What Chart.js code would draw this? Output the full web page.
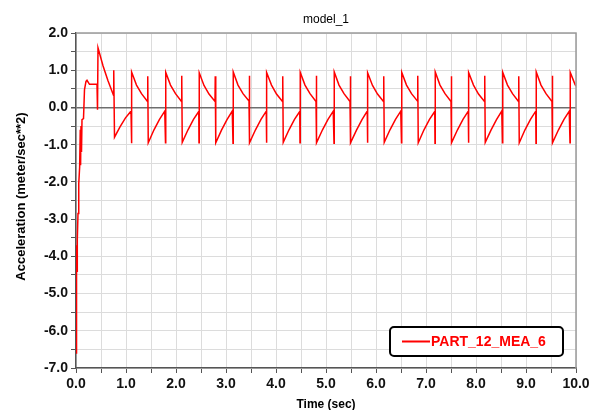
<!DOCTYPE html>
<html>
<head>
<meta charset="utf-8">
<title>model_1</title>
<script src="https://cdn.jsdelivr.net/npm/chart.js@4"></script>
<style>
  html, body { margin: 0; padding: 0; background: #fff; }
  #wrap { width: 596px; height: 410px; position: relative; }
</style>
</head>
<body>
<div id="wrap"><canvas id="accelChart"></canvas></div>
<script>
// Texts
const chartTitle = 'model_1';
const xTitle = 'Time (sec)';
const yTitle = 'Acceleration (meter/sec**2)';
const seriesName = 'PART_12_MEA_6';

// Tick labels (labelled only at whole numbers, ticks every 0.5)
const xLabels = ['0.0', '1.0', '2.0', '3.0', '4.0', '5.0', '6.0', '7.0', '8.0', '9.0', '10.0'];
const yLabels = ['-7.0', '-6.0', '-5.0', '-4.0', '-3.0', '-2.0', '-1.0', '0.0', '1.0', '2.0'];

// Samples, one row per cycle
const timeSec = [
  0.000, 0.004, 0.012, 0.016, 0.020, 0.026, 0.040, 0.055, 0.073, 0.085, 0.092, 0.100, 0.110, 0.120, 0.150, 0.170, 0.200, 0.220, 0.270, 0.420, 0.430,
  0.440, 0.540, 0.640, 0.750, 0.755, 0.770, 0.880, 0.990, 1.100,
  1.110, 1.115, 1.210, 1.310, 1.430, 1.435, 1.445, 1.560, 1.670, 1.775,
  1.790, 1.795, 1.890, 1.990, 2.110, 2.115, 2.125, 2.240, 2.350, 2.455,
  2.460, 2.465, 2.560, 2.660, 2.780, 2.785, 2.795, 2.910, 3.020, 3.125,
  3.140, 3.145, 3.240, 3.340, 3.460, 3.465, 3.475, 3.590, 3.700, 3.805,
  3.810, 3.815, 3.910, 4.010, 4.130, 4.135, 4.145, 4.260, 4.370, 4.475,
  4.480, 4.485, 4.580, 4.680, 4.800, 4.805, 4.815, 4.930, 5.040, 5.145,
  5.160, 5.165, 5.260, 5.360, 5.480, 5.485, 5.495, 5.610, 5.720, 5.825,
  5.830, 5.835, 5.930, 6.030, 6.150, 6.155, 6.165, 6.280, 6.390, 6.495,
  6.510, 6.515, 6.610, 6.710, 6.830, 6.835, 6.845, 6.960, 7.070, 7.175,
  7.180, 7.185, 7.280, 7.380, 7.500, 7.505, 7.515, 7.630, 7.740, 7.845,
  7.850, 7.855, 7.950, 8.050, 8.170, 8.175, 8.185, 8.300, 8.410, 8.515,
  8.530, 8.535, 8.630, 8.730, 8.850, 8.855, 8.865, 8.980, 9.090, 9.195,
  9.200, 9.205, 9.300, 9.400, 9.520, 9.525, 9.535, 9.650, 9.760, 9.865,
  9.880, 9.885, 9.980, 10.000
];
const accel = [
  -6.60, -5.50, -4.65, -3.70, -4.40, -3.55, -2.85, -2.05, -1.60, -0.60, -1.55, -0.50, -1.20, -0.33, -0.30, 0.48, 0.70, 0.73, 0.62, 0.62, -0.06,
  1.60, 1.12, 0.72, 0.33, 1.00, -0.80, -0.52, -0.28, -0.10,
  -0.96, 0.95, 0.60, 0.37, 0.16, 0.84, -0.95, -0.60, -0.32, -0.10,
  -0.95, 0.94, 0.60, 0.37, 0.16, 0.85, -0.94, -0.60, -0.32, -0.11,
  -0.95, 0.93, 0.59, 0.36, 0.16, 0.84, -0.95, -0.61, -0.33, -0.10,
  -0.96, 0.95, 0.60, 0.37, 0.17, 0.85, -0.95, -0.60, -0.32, -0.10,
  -0.95, 0.94, 0.60, 0.36, 0.16, 0.84, -0.94, -0.60, -0.32, -0.11,
  -0.95, 0.94, 0.60, 0.37, 0.16, 0.85, -0.95, -0.60, -0.32, -0.10,
  -0.96, 0.95, 0.60, 0.37, 0.16, 0.84, -0.95, -0.61, -0.33, -0.10,
  -0.95, 0.93, 0.59, 0.36, 0.16, 0.84, -0.94, -0.60, -0.32, -0.10,
  -0.95, 0.94, 0.60, 0.37, 0.17, 0.85, -0.95, -0.60, -0.32, -0.11,
  -0.96, 0.95, 0.60, 0.37, 0.16, 0.84, -0.95, -0.60, -0.32, -0.10,
  -0.95, 0.94, 0.60, 0.36, 0.16, 0.85, -0.94, -0.61, -0.33, -0.10,
  -0.95, 0.94, 0.60, 0.37, 0.16, 0.84, -0.95, -0.60, -0.32, -0.10,
  -0.96, 0.95, 0.60, 0.37, 0.16, 0.85, -0.95, -0.60, -0.32, -0.10,
  -0.95, 0.94, 0.62, 0.57
];

const FONT = '"Liberation Sans", Arial, Helvetica, sans-serif';
Chart.defaults.font.family = FONT;
Chart.defaults.color = '#111';

const points = timeSec.map((t, i) => ({ x: t, y: accel[i] }));

// frame, titles and the boxed legend
const decorations = {
  id: 'decorations',
  afterDraw(chart) {
    const { ctx, chartArea: a } = chart;
    const midX = (a.left + a.right) / 2;
    ctx.save();

    ctx.strokeStyle = '#9a9a9a';
    ctx.lineWidth = 1.5;
    ctx.beginPath();
    ctx.moveTo(a.left, a.top);
    ctx.lineTo(a.right, a.top);
    ctx.lineTo(a.right, a.bottom);
    ctx.stroke();

    ctx.fillStyle = '#000';
    ctx.textAlign = 'center';
    ctx.textBaseline = 'alphabetic';
    ctx.font = '12px ' + FONT;
    ctx.fillText(chartTitle, midX, 23);

    ctx.font = 'bold 12px ' + FONT;
    ctx.fillText(xTitle, midX, 408);

    ctx.save();
    ctx.translate(25, (a.top + a.bottom) / 2 - 4);
    ctx.rotate(-Math.PI / 2);
    ctx.font = 'bold 13px ' + FONT;
    ctx.fillText(yTitle, 0, 0);
    ctx.restore();

    // legend box
    const bx = 390, by = 327, bw = 173, bh = 29;
    ctx.beginPath();
    ctx.roundRect(bx, by, bw, bh, 4);
    ctx.fillStyle = '#fff';
    ctx.fill();
    ctx.lineWidth = 2;
    ctx.strokeStyle = '#000';
    ctx.stroke();

    ctx.strokeStyle = 'rgb(255,0,0)';
    ctx.lineWidth = 2;
    ctx.beginPath();
    ctx.moveTo(402, by + bh / 2);
    ctx.lineTo(430, by + bh / 2);
    ctx.stroke();

    ctx.fillStyle = 'rgb(255,0,0)';
    ctx.textAlign = 'left';
    ctx.textBaseline = 'middle';
    ctx.font = 'bold 14px ' + FONT;
    ctx.fillText(seriesName, 431, by + bh / 2 + 1);

    ctx.restore();
  }
};

new Chart(document.getElementById('accelChart'), {
  type: 'line',
  data: {
    datasets: [{
      label: seriesName,
      data: points,
      borderColor: 'rgb(255,0,0)',
      borderWidth: 1.5,
      pointRadius: 0,
      tension: 0,
      fill: false
    }]
  },
  options: {
    responsive: true,
    maintainAspectRatio: false,
    animation: false,
    layout: { padding: { top: 33, right: 20, left: 0, bottom: 0 } },
    plugins: {
      legend: { display: false },
      tooltip: { enabled: false },
      title: { display: false }
    },
    scales: {
      x: {
        type: 'linear',
        min: 0,
        max: 10,
        afterFit: scale => { scale.height = 42; },
        border: { display: true, color: '#555', width: 1.5 },
        grid: { color: '#dcdcdc', lineWidth: 1, tickColor: '#555', tickLength: 5 },
        ticks: {
          stepSize: 0.5,
          autoSkip: false,
          maxRotation: 0,
          padding: 3,
          color: '#111',
          font: { size: 14, weight: 'bold' },
          callback: v => Number.isInteger(v) ? xLabels[v] : ''
        }
      },
      y: {
        min: -7,
        max: 2,
        afterFit: scale => { scale.width = 76; },
        border: { display: true, color: '#555', width: 1.5 },
        grid: {
          color: c => (c.tick && c.tick.value === 0) ? '#6e6e6e' : '#dcdcdc',
          lineWidth: c => (c.tick && c.tick.value === 0) ? 1.5 : 1,
          tickColor: '#555',
          tickLength: 5
        },
        ticks: {
          stepSize: 0.5,
          autoSkip: false,
          padding: 3,
          color: '#111',
          font: { size: 14, weight: 'bold' },
          callback: v => Number.isInteger(v) ? yLabels[v + 7] : ''
        }
      }
    }
  },
  plugins: [decorations]
});
</script>
</body>
</html>
